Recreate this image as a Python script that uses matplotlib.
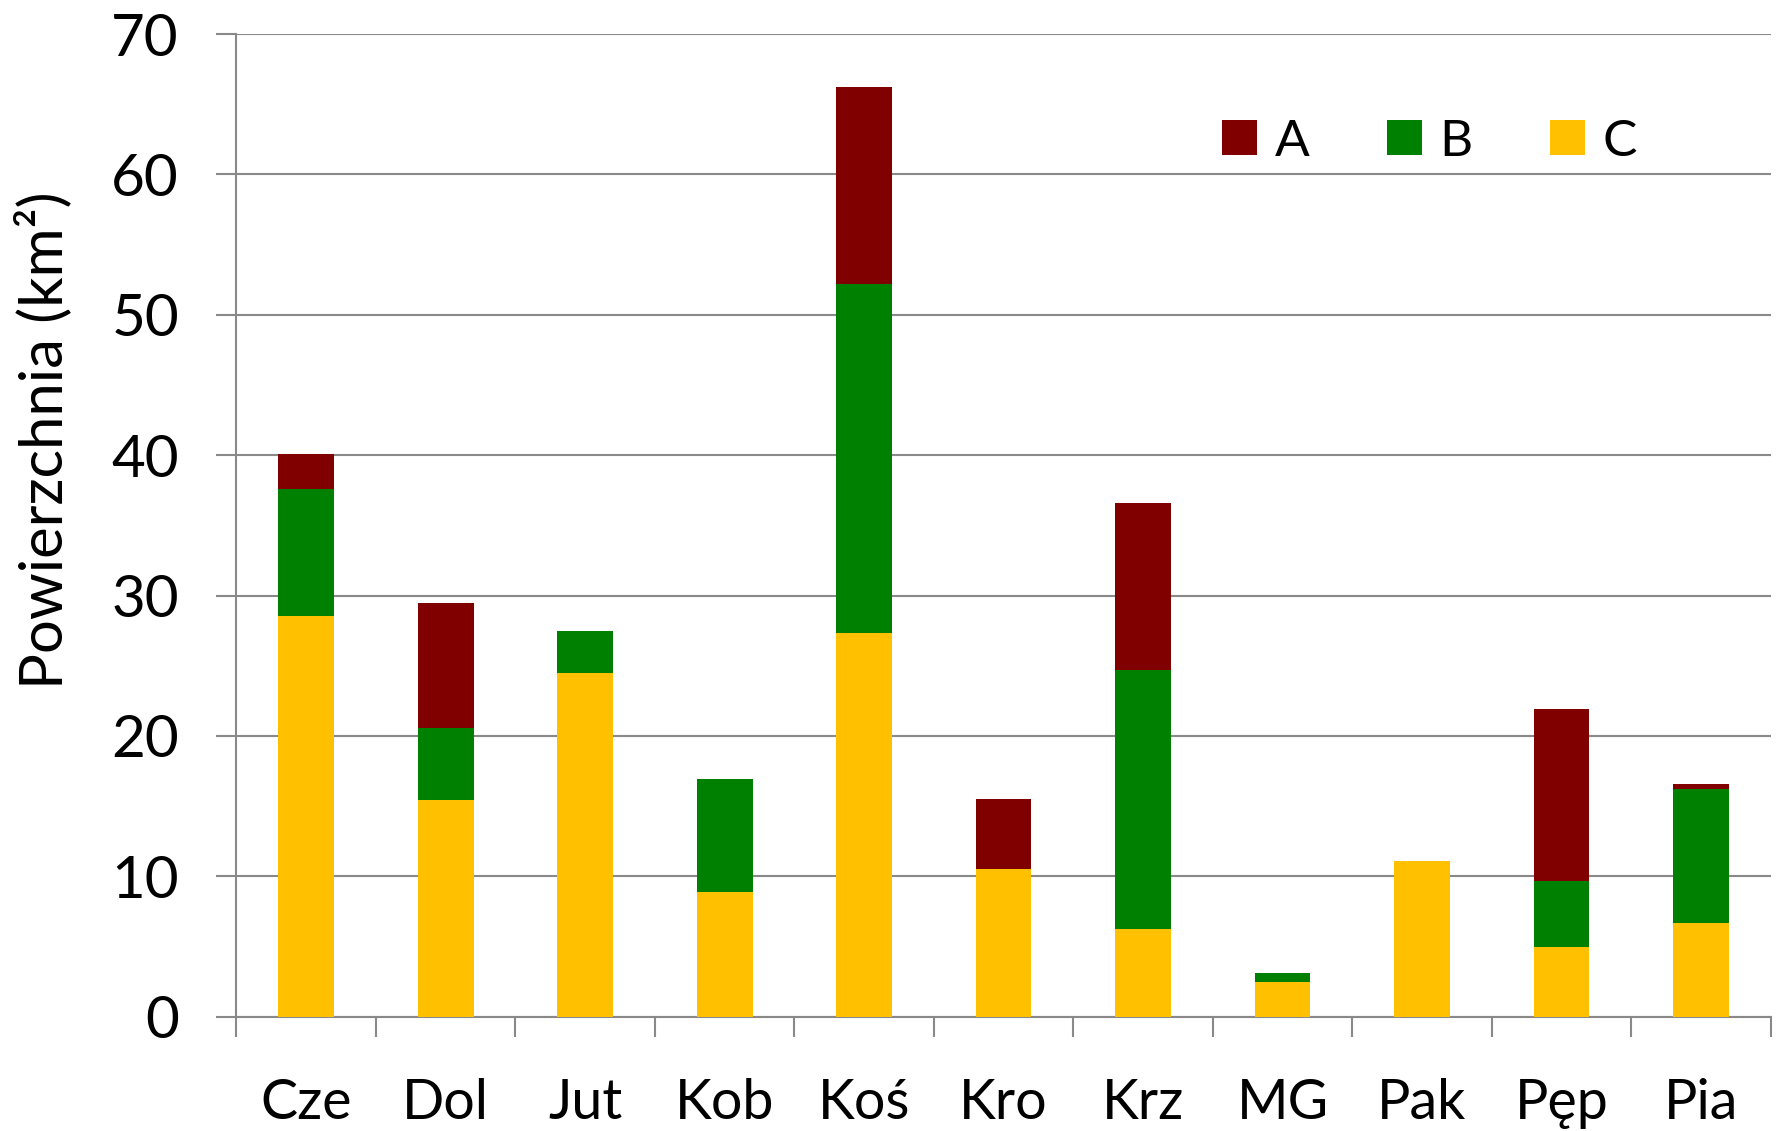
import matplotlib
matplotlib.use("Agg")
import matplotlib.pyplot as plt
import numpy as np

plt.rcParams['font.family'] = ['Lato', 'DejaVu Sans']

categories = ["Cze", "Dol", "Jut", "Kob", "Koś", "Kro", "Krz", "MG", "Pak", "Pęp", "Pia"]
series_C = [28.55, 15.46, 24.45, 8.85, 27.3, 10.5, 6.27, 2.45, 11.1, 4.95, 6.68]
series_B = [9.03, 5.10, 3.01, 8.11, 24.9, 0.0, 18.43, 0.64, 0.0, 4.72, 9.52]
series_A = [2.48, 8.94, 0.0, 0.0, 14.0, 5.0, 11.9, 0.0, 0.0, 12.23, 0.4]
yticks = [0, 10, 20, 30, 40, 50, 60, 70]
ylabel = "Powierzchnia (km²)"

col_A = "#800000"
col_B = "#008000"
col_C = "#FFC000"
grid_col = "#898989"

W, H = 1783, 1131
fig = plt.figure(figsize=(W / 100, H / 100), dpi=100)
ax = fig.add_axes([236.5 / W, 1 - 1016.7 / H, (1770.6 - 236.5) / W, (1016.7 - 34.1) / H])

x = np.arange(len(categories))
C = np.array(series_C)
B = np.array(series_B)
A = np.array(series_A)
bw = 0.4
bC = ax.bar(x, C, bw, color=col_C, label="C", zorder=3, linewidth=0)
bB = ax.bar(x, B, bw, bottom=C, color=col_B, label="B", zorder=3, linewidth=0)
bA = ax.bar(x, A, bw, bottom=C + B, color=col_A, label="A", zorder=3, linewidth=0)

ax.set_xlim(-0.5, len(categories) - 0.5)
ax.set_ylim(0, 70)
ax.set_yticks(yticks)
ax.yaxis.grid(True, color=grid_col, linewidth=1.5, zorder=0)
ax.set_axisbelow(True)

for s in ["top", "right"]:
    ax.spines[s].set_visible(False)
for s in ["left", "bottom"]:
    ax.spines[s].set_color(grid_col)
    ax.spines[s].set_linewidth(1.5)

ax.tick_params(axis="y", length=14.4, width=1.5, color=grid_col, labelsize=42, pad=27)
ax.set_xticks(np.arange(len(categories) + 1) - 0.5)
ax.set_xticklabels([])
ax.tick_params(axis="x", which="major", length=14.4, width=1.5, color=grid_col)
ax.set_xticks(x, minor=True)
ax.set_xticklabels(categories, minor=True)
ax.tick_params(axis="x", which="minor", length=0, labelsize=40, pad=44)

ax.set_ylabel(ylabel, fontsize=43)
ax.yaxis.set_label_coords(-(236.5 - 43) / (1770.6 - 236.5), 0.587, transform=ax.transAxes)
ax.yaxis.label.set_va("center")

handles = [bA, bB, bC]
leg = fig.legend(handles, ["A", "B", "C"], loc="center left",
                 bbox_to_anchor=(1222 / W, 1 - 141.5 / H), ncol=3, frameon=False,
                 fontsize=37, handlelength=0.68, handleheight=0.68,
                 handletextpad=0.35, columnspacing=1.5, borderpad=0, borderaxespad=0)

fig.savefig("out.png", dpi=100)
